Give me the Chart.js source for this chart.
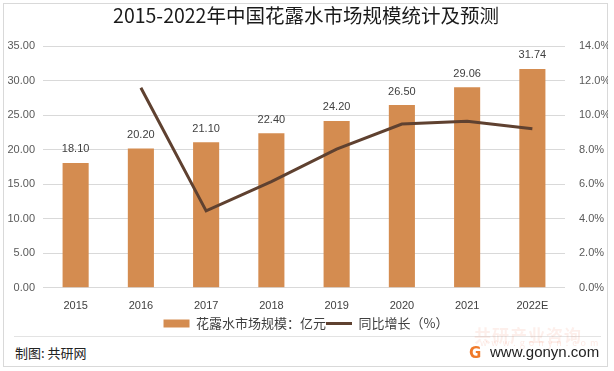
<!DOCTYPE html>
<html>
<head>
<meta charset="utf-8">
<script src="https://cdn.jsdelivr.net/npm/chart.js@4/dist/chart.umd.min.js"></script>
<style>
  html, body { margin: 0; padding: 0; background: #fff; }
  body { width: 614px; height: 371px; position: relative; overflow: hidden;
         font-family: "Noto Sans CJK SC", "Noto Sans", sans-serif; }
  .frame { position: absolute; left: 3px; top: 3px; width: 605px; height: 364px;
           border: 1px solid #d9d9d9; box-sizing: border-box; }
  #wrap { position: absolute; left: 4px; top: 4px; width: 604px; height: 336px; }
  .sep { position: absolute; left: 14px; top: 336px; width: 587px; height: 1px; background: #e3e3e3; }
  .src { position: absolute; left: 15px; top: 343px; font-size: 13px; color: #222; }
  .wm1 { position: absolute; left: 474px; top: 322px; font-size: 17px; font-weight: bold;
         color: rgba(235, 120, 90, 0.12); letter-spacing: 1px; }
  .wm2 { position: absolute; left: 480px; top: 336px; font-size: 9px;
         color: rgba(235, 120, 90, 0.16); letter-spacing: 4px; }
  .logo { position: absolute; left: 469px; top: 346px; width: 14px; height: 14px;
          font: bold 15px "DejaVu Sans", sans-serif; line-height: 14px; color: #f07a2a; }
  .url { position: absolute; left: 490px; top: 343px; font: 15px "Liberation Sans", sans-serif; color: #222; }
</style>
</head>
<body>
<div class="frame"></div>
<div id="wrap"><canvas id="chart"></canvas></div>
<div class="sep"></div>
<div class="wm1">共研产业咨询</div>
<div class="wm2">www.gonyn.com</div>
<div class="src">制图: 共研网</div>
<div class="logo">G</div>
<div class="url">www.gonyn.com</div>
<script>
// data
const years = ['2015', '2016', '2017', '2018', '2019', '2020', '2021', '2022E'];
const marketSize = [18.10, 20.20, 21.10, 22.40, 24.20, 26.50, 29.06, 31.74];
const growthRate = [null, 11.6, 4.46, 6.16, 8.04, 9.50, 9.66, 9.22];
const leftTicks = [0, 5, 10, 15, 20, 25, 30, 35];
const rightTicks = [0, 2, 4, 6, 8, 10, 12, 14];

const tickFont = { family: 'Liberation Sans, Arial, sans-serif', size: 11 };

// value labels above bars
const barLabels = {
    id: 'barLabels',
    afterDatasetsDraw(chart) {
        const ctx = chart.ctx;
        const meta = chart.getDatasetMeta(1);
        ctx.save();
        ctx.font = '11px "Liberation Sans", Arial, sans-serif';
        ctx.fillStyle = '#404040';
        ctx.textAlign = 'center';
        ctx.textBaseline = 'bottom';
        meta.data.forEach((bar, i) => {
            ctx.fillText(marketSize[i].toFixed(2), bar.x, bar.y - 8);
        });
        ctx.restore();
    }
};

const ctx = document.getElementById('chart').getContext('2d');
new Chart(ctx, {
    data: {
        labels: years,
        datasets: [
            {
                type: 'line',
                label: '同比增长（%）',
                data: growthRate,
                yAxisID: 'y1',
                borderColor: '#5f4130',
                backgroundColor: '#5f4130',
                borderWidth: 3,
                pointRadius: 0,
                tension: 0,
                pointStyle: 'line',
                order: 0
            },
            {
                type: 'bar',
                label: '花露水市场规模：亿元',
                data: marketSize,
                yAxisID: 'y',
                backgroundColor: '#d48c50',
                borderWidth: 0,
                barPercentage: 0.4,
                categoryPercentage: 1.0,
                pointStyle: 'rect',
                order: 1
            }
        ]
    },
    options: {
        responsive: true,
        maintainAspectRatio: false,
        animation: false,
        layout: { padding: { top: 0, bottom: 0 } },
        plugins: {
            title: {
                display: true,
                text: '2015-2022年中国花露水市场规模统计及预测',
                color: '#1a1a1a',
                font: { family: 'Noto Sans CJK SC', size: 19.5, weight: 'normal' },
                padding: { top: 0, bottom: 19 }
            },
            legend: {
                position: 'bottom',
                reverse: true,
                labels: {
                    usePointStyle: true,
                    pointStyleWidth: 26,
                    boxHeight: 8,
                    color: '#404040',
                    padding: 0,
                    font: { family: 'Noto Sans CJK SC', size: 13 }
                }
            },
            tooltip: { enabled: false }
        },
        scales: {
            x: {
                grid: { display: false },
                border: { display: false },
                ticks: { color: '#404040', font: tickFont, padding: 4 }
            },
            y: {
                position: 'left',
                min: 0,
                max: 35,
                afterFit(s) { s.width = 39; },
                afterBuildTicks(s) { s.ticks = leftTicks.map(v => ({ value: v })); },
                grid: { color: '#d9d9d9', drawTicks: false },
                border: { display: false },
                ticks: {
                    color: '#595959',
                    font: tickFont,
                    padding: 8,
                    callback: v => v.toFixed(2)
                }
            },
            y1: {
                position: 'right',
                min: 0,
                max: 14,
                afterFit(s) { s.width = 43; },
                afterBuildTicks(s) { s.ticks = rightTicks.map(v => ({ value: v })); },
                grid: { display: false },
                border: { display: false },
                ticks: {
                    color: '#595959',
                    font: tickFont,
                    padding: 6,
                    callback: v => v.toFixed(1) + '%'
                }
            }
        }
    },
    plugins: [barLabels]
});
</script>
</body>
</html>
